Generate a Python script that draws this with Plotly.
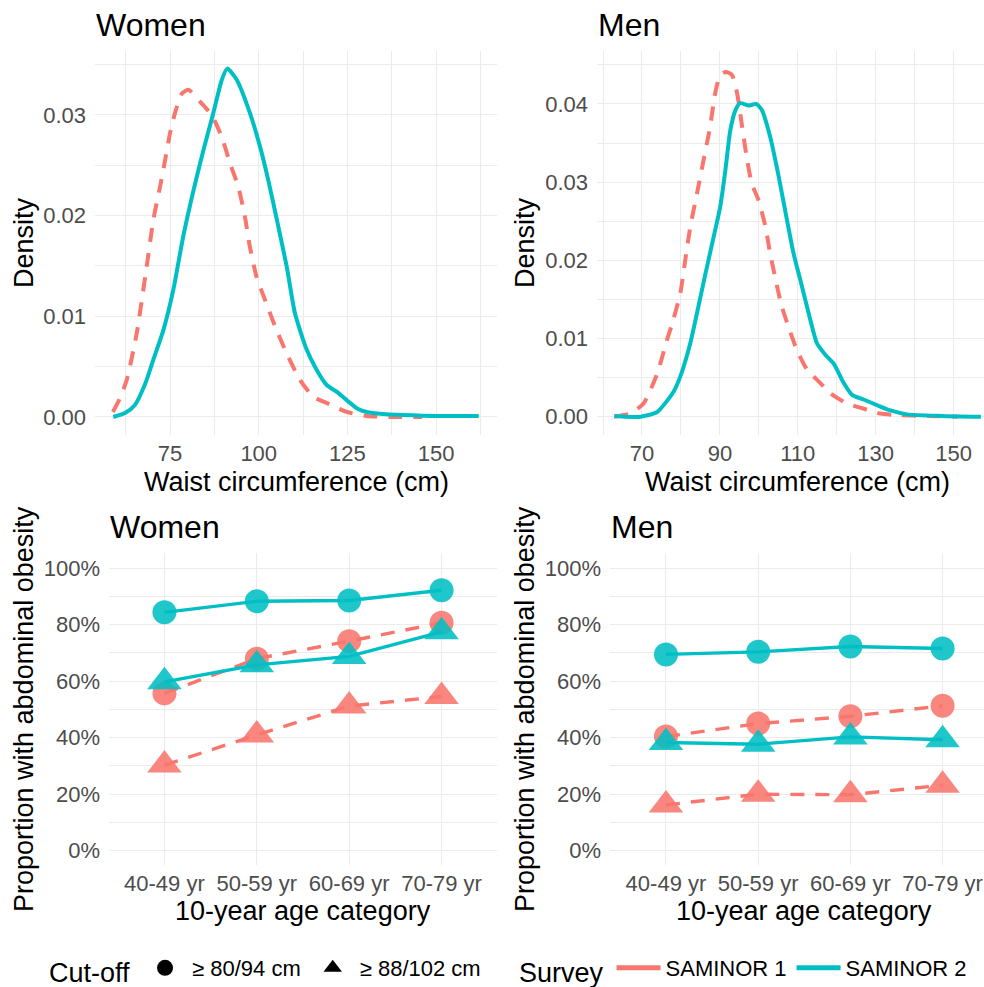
import plotly.graph_objects as go

# ---------------- data ----------------
# Density curves: waist circumference (cm) vs density
women_s1_x = [58.9, 60.8, 62.8, 65.6, 68.4, 70.3, 72.2, 73.6, 75.0, 76.4, 78.3, 80.2, 83.5, 86.7, 89.6,
              91.9, 94.2, 96.1, 97.5, 99.4, 101.8, 104.6, 107.9, 111.6, 115.4, 119.1, 121.5, 124.8, 130.4, 138.0, 146.0]
women_s1_y = [0.0005, 0.0018, 0.0037, 0.0083, 0.0149, 0.0196, 0.0229, 0.0255, 0.0282, 0.0302, 0.0321, 0.0325,
              0.0313, 0.0300, 0.0278, 0.0252, 0.0229, 0.0199, 0.0169, 0.0139, 0.0116, 0.0090, 0.0063, 0.0037,
              0.0020, 0.0014, 0.0010, 0.0005, 0.0001, 0.0000, 0.0000]

women_s2_x = [59.0, 62.3, 65.1, 68.0, 70.3, 73.1, 75.9, 78.7, 81.6, 84.4, 87.2, 89.6, 91.1, 93.8, 97.5, 100.4,
              102.7, 105.1, 107.9, 110.2, 113.5, 116.3, 119.1, 122.4, 125.7, 128.0, 130.4, 135.0, 140.8, 150.0, 162.0]
women_s2_y = [0.0000, 0.0004, 0.0012, 0.0033, 0.0057, 0.0086, 0.0126, 0.0179, 0.0225, 0.0265, 0.0302, 0.0335,
              0.0346, 0.0335, 0.0302, 0.0268, 0.0235, 0.0196, 0.0149, 0.0103, 0.0067, 0.0047, 0.0032, 0.0024,
              0.0014, 0.0008, 0.0005, 0.0003, 0.0002, 0.0001, 0.0001]

men_s1_x = [62.9, 67.0, 70.4, 73.9, 76.4, 77.5, 79.8, 81.1, 82.4, 84.1, 85.8, 87.5, 88.8, 90.1, 91.6, 93.1, 94.4,
            95.7, 97.0, 98.2, 99.9, 101.7, 102.9, 104.7, 105.9, 107.6, 109.8, 112.4, 115.8, 118.3, 122.6, 127.8,
            131.2, 136.0, 142.0, 151.0]
men_s1_y = [0.0000, 0.0004, 0.0017, 0.0055, 0.0098, 0.0115, 0.0157, 0.0200, 0.0243, 0.0285, 0.0328, 0.0371,
            0.0414, 0.0437, 0.0441, 0.0437, 0.0414, 0.0371, 0.0328, 0.0298, 0.0277, 0.0243, 0.0209, 0.0166,
            0.0141, 0.0115, 0.0085, 0.0060, 0.0043, 0.0030, 0.0017, 0.0009, 0.0004, 0.0002, 0.0001, 0.0000]

men_s2_x = [62.9, 66.0, 69.6, 73.9, 78.1, 79.8, 82.4, 84.1, 86.3, 88.4, 90.1, 91.4, 92.7, 94.0, 95.2, 97.4, 99.3,
            100.8, 102.9, 105.1, 107.2, 108.9, 111.1, 113.2, 114.9, 117.1, 119.2, 121.8, 123.9, 126.9, 131.2,
            133.8, 138.0, 146.8, 157.0]
men_s2_y = [0.0001, 0.0000, 0.0000, 0.0006, 0.0032, 0.0051, 0.0094, 0.0132, 0.0183, 0.0230, 0.0269, 0.0315,
            0.0367, 0.0392, 0.0401, 0.0398, 0.0400, 0.0392, 0.0358, 0.0307, 0.0252, 0.0209, 0.0166, 0.0124,
            0.0094, 0.0079, 0.0068, 0.0043, 0.0028, 0.0022, 0.0013, 0.0008, 0.0003, 0.0001, 0.0000]

# Proportions with abdominal obesity (%) by age category
age_categories = ["40-49 yr", "50-59 yr", "60-69 yr", "70-79 yr"]
women_s1_low = [55.7, 68.0, 74.2, 80.7]    # >= 80 cm, SAMINOR 1
women_s1_high = [30.3, 41.0, 51.2, 54.6]   # >= 88 cm, SAMINOR 1
women_s2_low = [84.4, 88.3, 88.6, 92.2]    # >= 80 cm, SAMINOR 2
women_s2_high = [59.8, 65.8, 68.8, 77.5]   # >= 88 cm, SAMINOR 2
men_s1_low = [40.4, 45.0, 47.6, 51.3]      # >= 94 cm, SAMINOR 1
men_s1_high = [16.2, 20.0, 19.8, 23.2]     # >= 102 cm, SAMINOR 1
men_s2_low = [69.5, 70.4, 72.3, 71.6]      # >= 94 cm, SAMINOR 2
men_s2_high = [38.3, 37.7, 40.3, 39.3]     # >= 102 cm, SAMINOR 2

pct_ticks = [0, 20, 40, 60, 80, 100]
pct_labels = ["0%", "20%", "40%", "60%", "80%", "100%"]

survey_names = ["SAMINOR 1", "SAMINOR 2"]
cutoff_names = ["≥ 80/94 cm", "≥ 88/102 cm"]

# ---------------- style ----------------
RED = "#F8766D"
TEAL = "#00BFC4"
FONT = "Liberation Sans, Arial, sans-serif"
GRID = "#EBEBEB"
TICKC = "#4D4D4D"
W, H = 984, 987


def px_x(p):
    return p / W


def px_y(p):
    return 1 - p / H


fig = go.Figure()

# ---- density traces ----
dens = [
    ("x", "y", women_s1_x, women_s1_y, RED, "dash"),
    ("x", "y", women_s2_x, women_s2_y, TEAL, "solid"),
    ("x2", "y2", men_s1_x, men_s1_y, RED, "dash"),
    ("x2", "y2", men_s2_x, men_s2_y, TEAL, "solid"),
]
for xa, ya, xs, ys, col, dash in dens:
    fig.add_trace(go.Scatter(
        x=xs, y=ys, xaxis=xa, yaxis=ya, mode="lines",
        line=dict(color=col, width=4, dash=dash if dash == "solid" else "14px,11px",
                  shape="spline", smoothing=0.6),
        showlegend=False, hoverinfo="skip"))

# ---- proportion traces ----
props = [
    ("x3", "y3", women_s1_low, RED, "circle", 24),
    ("x3", "y3", women_s1_high, RED, "triangle-up", 30),
    ("x3", "y3", women_s2_low, TEAL, "circle", 24),
    ("x3", "y3", women_s2_high, TEAL, "triangle-up", 30),
    ("x4", "y4", men_s1_low, RED, "circle", 24),
    ("x4", "y4", men_s1_high, RED, "triangle-up", 30),
    ("x4", "y4", men_s2_low, TEAL, "circle", 24),
    ("x4", "y4", men_s2_high, TEAL, "triangle-up", 30),
]
for xa, ya, vals, col, sym, sz in props:
    fig.add_trace(go.Scatter(
        x=list(range(len(age_categories))), y=vals, xaxis=xa, yaxis=ya,
        mode="lines+markers",
        line=dict(color=col, width=3.4, dash="solid" if col == TEAL else "14px,11px"),
        marker=dict(color=col, symbol=sym, size=sz, opacity=0.88, line=dict(width=0)),
        showlegend=False, hoverinfo="skip"))

# ---- legend entries ----
for name, sym in zip(cutoff_names, ["circle", "triangle-up"]):
    fig.add_trace(go.Scatter(
        x=[None], y=[None], xaxis="x3", yaxis="y3", mode="markers", name=name,
        marker=dict(color="black", symbol=sym, size=22), legend="legend", showlegend=True))
for name, col in zip(survey_names, [RED, TEAL]):
    fig.add_trace(go.Scatter(
        x=[None], y=[None], xaxis="x4", yaxis="y4", mode="lines", name=name,
        line=dict(color=col, width=5), legend="legend2", showlegend=True))

# ---------------- axes ----------------
common = dict(showline=False, zeroline=False, ticks="", gridcolor=GRID, gridwidth=1.4, tickangle=0,
              tickfont=dict(family=FONT, size=22, color=TICKC), fixedrange=True, automargin=False)
minor_style = dict(showgrid=True, gridcolor=GRID, gridwidth=0.8)

top_y = (51, 435)
bot_y = (553, 865)

fig.update_layout(
    xaxis=dict(domain=[px_x(95), px_x(497)], range=[53.85, 167.15], anchor="y",
               tickvals=[75, 100, 125, 150],
               minor=dict(tickvals=[62.5, 87.5, 112.5, 137.5, 162.5], **minor_style),
               ticklabelstandoff=3, **common),
    yaxis=dict(domain=[px_y(top_y[1]), px_y(top_y[0])], range=[-0.00179, 0.03635], anchor="x",
               tickvals=[0, 0.01, 0.02, 0.03], ticktext=["0.00", "0.01", "0.02", "0.03"],
               minor=dict(tickvals=[0.005, 0.015, 0.025, 0.035], **minor_style),
               ticklabelstandoff=8, **common),
    xaxis2=dict(domain=[px_x(597), 1.0], range=[58.45, 157.8], anchor="y2",
                tickvals=[70, 90, 110, 130, 150],
                minor=dict(tickvals=[60, 80, 100, 120, 140], **minor_style),
                ticklabelstandoff=3, **common),
    yaxis2=dict(domain=[px_y(top_y[1]), px_y(top_y[0])], range=[-0.00234, 0.04677], anchor="x2",
                tickvals=[0, 0.01, 0.02, 0.03, 0.04],
                ticktext=["0.00", "0.01", "0.02", "0.03", "0.04"],
                minor=dict(tickvals=[0.005, 0.015, 0.025, 0.035, 0.045], **minor_style),
                ticklabelstandoff=8, **common),
    xaxis3=dict(domain=[px_x(109), px_x(497)], range=[-0.6, 3.6], anchor="y3",
                tickvals=list(range(len(age_categories))), ticktext=age_categories,
                ticklabelstandoff=3, **common),
    yaxis3=dict(domain=[px_y(bot_y[1]), px_y(bot_y[0])], range=[-5.06, 105.4], anchor="x3",
                tickvals=pct_ticks, ticktext=pct_labels,
                minor=dict(tickvals=[10, 30, 50, 70, 90], **minor_style),
                ticklabelstandoff=8, **common),
    xaxis4=dict(domain=[px_x(610), 1.0], range=[-0.607, 3.449], anchor="y4",
                tickvals=list(range(len(age_categories))), ticktext=age_categories,
                ticklabelstandoff=3, **common),
    yaxis4=dict(domain=[px_y(bot_y[1]), px_y(bot_y[0])], range=[-5.06, 105.4], anchor="x4",
                tickvals=pct_ticks, ticktext=pct_labels,
                minor=dict(tickvals=[10, 30, 50, 70, 90], **minor_style),
                ticklabelstandoff=8, **common),
)

# ---------------- titles (annotations) ----------------
ann = []


def add_text(text, xp, yp, size, xanchor="center", angle=0, color="black"):
    ann.append(dict(text=text, x=px_x(xp), y=px_y(yp), xref="paper", yref="paper",
                    xanchor=xanchor, yanchor="middle", showarrow=False, textangle=angle,
                    font=dict(family=FONT, size=size, color=color)))


add_text("Women", 94, 25, 32, xanchor="left")
add_text("Men", 596, 25, 32, xanchor="left")
add_text("Women", 108, 527, 32, xanchor="left")
add_text("Men", 609, 527, 32, xanchor="left")
add_text("Density", 24, 243, 27, angle=-90)
add_text("Density", 525, 243, 27, angle=-90)
add_text("Waist circumference (cm)", 296, 482, 27)
add_text("Waist circumference (cm)", 797, 482, 27)
add_text("Proportion with abdominal obesity", 24, 709, 27, angle=-90)
add_text("Proportion with abdominal obesity", 525, 709, 27, angle=-90)
add_text("10-year age category", 303, 911, 27)
add_text("10-year age category", 804, 911, 27)

fig.update_layout(
    annotations=ann,
    width=W, height=H,
    margin=dict(l=0, r=0, t=0, b=0, autoexpand=False),
    paper_bgcolor="white", plot_bgcolor="white",
    font=dict(family=FONT, color="black"),
    legend=dict(orientation="h", x=px_x(47), xanchor="left", y=px_y(970), yanchor="middle",
                title=dict(text="Cut-off", side="left", font=dict(family=FONT, size=27)),
                font=dict(family=FONT, size=22, color="black"), itemwidth=44,
                bgcolor="rgba(0,0,0,0)"),
    legend2=dict(orientation="h", x=px_x(517), xanchor="left", y=px_y(970), yanchor="middle",
                 title=dict(text="Survey", side="left", font=dict(family=FONT, size=27)),
                 font=dict(family=FONT, size=22, color="black"), itemwidth=44,
                 bgcolor="rgba(0,0,0,0)"),
)

fig.write_html("out.html")
